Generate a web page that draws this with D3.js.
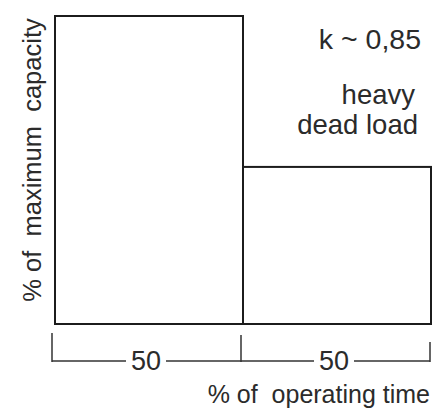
<!DOCTYPE html>
<html>
<head>
<meta charset="utf-8">
<script src="https://cdn.jsdelivr.net/npm/d3@7"></script>
<style>
  html, body { margin: 0; padding: 0; background: #fff; }
  svg { display: block; }
  text { font-family: "Liberation Sans", Arial, sans-serif; fill: #2b2b2b; }
</style>
</head>
<body>
<svg id="chart" width="432" height="408"></svg>
<script>
// ---- data ----
const segments = ["peak", "dead load"];
const timeShare = [50, 50];          // % of operating time
const capacity = [100, 51];          // % of maximum capacity
const tickLabels = ["50", "50"];
const kLabel = "k ~ 0,85";
const noteLines = ["heavy", "dead load"];
const xTitle = "% of  operating time";
const yTitle = "% of  maximum  capacity";

// ---- layout ----
const svg = d3.select("#chart");
const x = d3.scaleLinear().domain([0, 100]).range([55, 431]);
const y = d3.scaleLinear().domain([0, 100]).range([324, 16]);

const boundaries = [0, ...Array.from(d3.cumsum(timeShare))];
const bars = segments.map((s, i) => ({
  name: s, x0: boundaries[i], x1: boundaries[i + 1], v: capacity[i], label: tickLabels[i]
}));

// bars
svg.append("g").selectAll("rect").data(bars).join("rect")
  .attr("x", d => x(d.x0))
  .attr("y", d => y(d.v))
  .attr("width", d => x(d.x1) - x(d.x0))
  .attr("height", d => y(0) - y(d.v))
  .attr("fill", "none")
  .attr("stroke", "#1c1c1c")
  .attr("stroke-width", 2);

// dimension line
const dimY = 361;
const last = boundaries.length - 1;
const tickX = (d, i) => x(d) - (i === 0 ? 3 : i === last ? 1 : 2);
const dim = svg.append("g");
dim.append("line")
  .attr("x1", x(0) - 3).attr("x2", x(100) - 1)
  .attr("y1", dimY).attr("y2", dimY)
  .attr("stroke", "#333").attr("stroke-width", 1.5);
dim.selectAll("line.tick").data(boundaries).join("line")
  .attr("class", "tick")
  .attr("x1", tickX)
  .attr("x2", tickX)
  .attr("y1", (d, i) => i === last ? 342 : (i === 0 ? 333 : 335))
  .attr("y2", dimY + 1)
  .attr("stroke", "#333").attr("stroke-width", 1.5);

const labs = dim.selectAll("g.lab").data(bars).join("g").attr("class", "lab")
  .attr("transform", d => `translate(${x((d.x0 + d.x1) / 2) - 3},${dimY})`);
labs.append("rect")
  .attr("x", -20).attr("y", -14).attr("width", 40).attr("height", 28)
  .attr("fill", "#fff");
labs.append("text")
  .attr("text-anchor", "middle")
  .attr("dy", "0.35em")
  .attr("font-size", 27)
  .text(d => d.label);

// x title
svg.append("text")
  .attr("x", 430).attr("y", 403)
  .attr("text-anchor", "end")
  .attr("font-size", 25)
  .style("white-space", "pre")
  .text(xTitle);

// y title
svg.append("text")
  .attr("transform", "translate(41,160) rotate(-90)")
  .attr("text-anchor", "middle")
  .attr("font-size", 25.5)
  .style("white-space", "pre")
  .text(yTitle);

// annotations
svg.append("text")
  .attr("x", 421).attr("y", 49)
  .attr("text-anchor", "end")
  .attr("font-size", 28.5)
  .text(kLabel);
svg.append("g").selectAll("text").data(noteLines).join("text")
  .attr("x", (d, i) => i === 0 ? 415 : 418)
  .attr("y", (d, i) => 104 + i * 30)
  .attr("text-anchor", "end")
  .attr("font-size", 27.5)
  .text(d => d);
</script>
</body>
</html>
